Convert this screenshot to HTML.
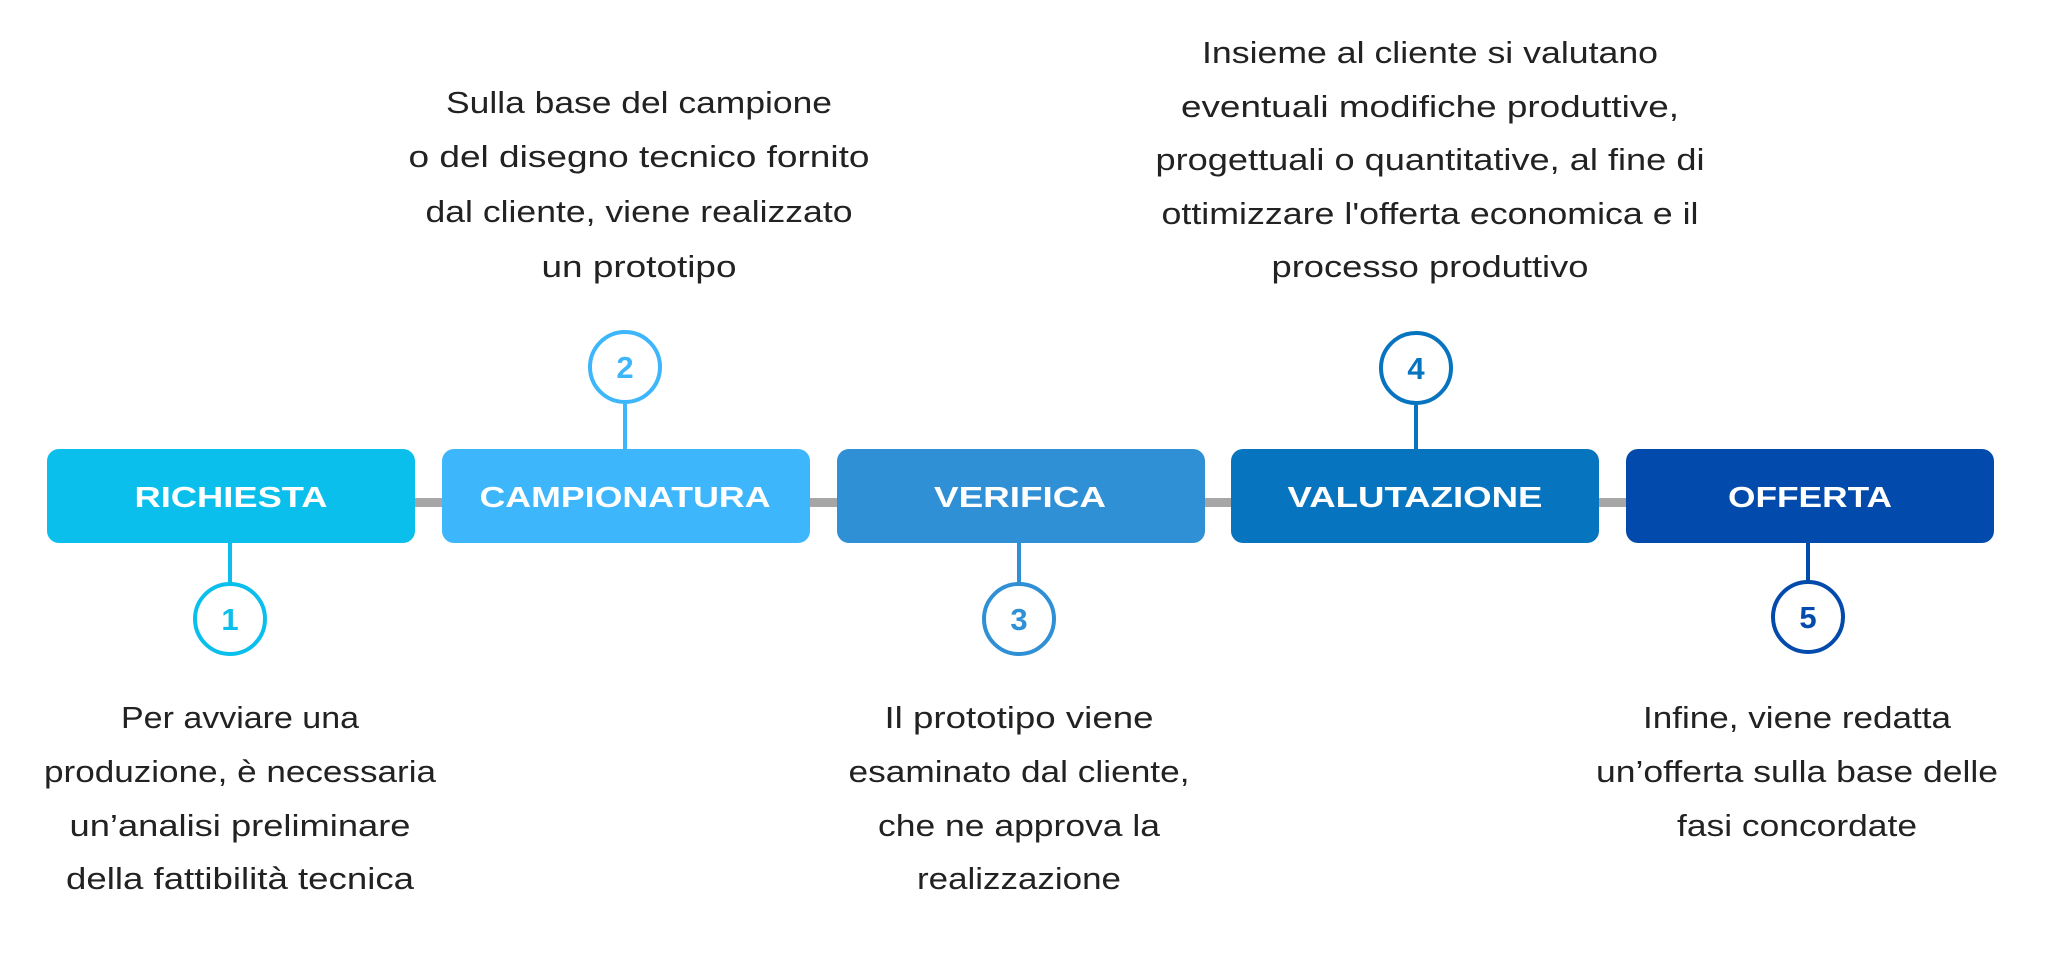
<!DOCTYPE html>
<html><head><meta charset="utf-8"><style>html,body{margin:0;padding:0;background:#fff}svg{display:block}</style></head>
<body>
<svg width="2054" height="962" viewBox="0 0 2054 962" xmlns="http://www.w3.org/2000/svg">
<rect width="2054" height="962" fill="#fff"/>
<rect x="410" y="498" width="1220" height="9" fill="#a6a6a6"/>
<g font-family="Liberation Sans, sans-serif" font-weight="bold" font-size="29" fill="#fff" text-anchor="middle">
<rect x="47" y="449" width="368" height="94" rx="12" fill="#0bbfec"/>
<rect x="442" y="449" width="368" height="94" rx="12" fill="#3db6fb"/>
<rect x="837" y="449" width="368" height="94" rx="12" fill="#3090d6"/>
<rect x="1231" y="449" width="368" height="94" rx="12" fill="#0674be"/>
<rect x="1626" y="449" width="368" height="94" rx="12" fill="#024aab"/>
<text x="231" y="507" textLength="193" lengthAdjust="spacingAndGlyphs">RICHIESTA</text>
<text x="625" y="507" textLength="291" lengthAdjust="spacingAndGlyphs">CAMPIONATURA</text>
<text x="1020" y="507" textLength="172" lengthAdjust="spacingAndGlyphs">VERIFICA</text>
<text x="1415" y="507" textLength="255" lengthAdjust="spacingAndGlyphs">VALUTAZIONE</text>
<text x="1810" y="507" textLength="164" lengthAdjust="spacingAndGlyphs">OFFERTA</text>
</g>
<g stroke-width="4" fill="#fff">
<line x1="230" y1="543" x2="230" y2="583" stroke="#0bbfec"/>
<circle cx="230" cy="619" r="35" stroke="#0bbfec"/>
<line x1="625" y1="403" x2="625" y2="449" stroke="#3db6fb"/>
<circle cx="625" cy="367" r="35" stroke="#3db6fb"/>
<line x1="1019" y1="543" x2="1019" y2="583" stroke="#3090d6"/>
<circle cx="1019" cy="619" r="35" stroke="#3090d6"/>
<line x1="1416" y1="404" x2="1416" y2="449" stroke="#0674be"/>
<circle cx="1416" cy="368" r="35" stroke="#0674be"/>
<line x1="1808" y1="543" x2="1808" y2="581" stroke="#024aab"/>
<circle cx="1808" cy="617" r="35" stroke="#024aab"/>
</g>
<g font-family="Liberation Sans, sans-serif" font-weight="bold" font-size="31" text-anchor="middle">
<text x="230" y="630" fill="#0bbfec">1</text>
<text x="625" y="378" fill="#3db6fb">2</text>
<text x="1019" y="630" fill="#3090d6">3</text>
<text x="1416" y="379" fill="#0674be">4</text>
<text x="1808" y="628" fill="#024aab">5</text>
</g>
<g font-family="Liberation Sans, sans-serif" font-size="31" fill="#222" text-anchor="middle">
<text x="240" y="728" textLength="238" lengthAdjust="spacingAndGlyphs">Per avviare una</text>
<text x="240" y="782" textLength="392" lengthAdjust="spacingAndGlyphs">produzione, è necessaria</text>
<text x="240" y="836" textLength="341" lengthAdjust="spacingAndGlyphs">un’analisi preliminare</text>
<text x="240" y="889" textLength="348" lengthAdjust="spacingAndGlyphs">della fattibilità tecnica</text>

<text x="639" y="113" textLength="386" lengthAdjust="spacingAndGlyphs">Sulla base del campione</text>
<text x="639" y="167" textLength="461" lengthAdjust="spacingAndGlyphs">o del disegno tecnico fornito</text>
<text x="639" y="222" textLength="427" lengthAdjust="spacingAndGlyphs">dal cliente, viene realizzato</text>
<text x="639" y="277" textLength="195" lengthAdjust="spacingAndGlyphs">un prototipo</text>

<text x="1019" y="728" textLength="269" lengthAdjust="spacingAndGlyphs">Il prototipo viene</text>
<text x="1019" y="782" textLength="341" lengthAdjust="spacingAndGlyphs">esaminato dal cliente,</text>
<text x="1019" y="836" textLength="282" lengthAdjust="spacingAndGlyphs">che ne approva la</text>
<text x="1019" y="889" textLength="204" lengthAdjust="spacingAndGlyphs">realizzazione</text>

<text x="1430" y="63" textLength="456" lengthAdjust="spacingAndGlyphs">Insieme al cliente si valutano</text>
<text x="1430" y="117" textLength="498" lengthAdjust="spacingAndGlyphs">eventuali modifiche produttive,</text>
<text x="1430" y="170" textLength="549" lengthAdjust="spacingAndGlyphs">progettuali o quantitative, al fine di</text>
<text x="1430" y="224" textLength="537" lengthAdjust="spacingAndGlyphs">ottimizzare l'offerta economica e il</text>
<text x="1430" y="277" textLength="317" lengthAdjust="spacingAndGlyphs">processo produttivo</text>

<text x="1797" y="728" textLength="308" lengthAdjust="spacingAndGlyphs">Infine, viene redatta</text>
<text x="1797" y="782" textLength="402" lengthAdjust="spacingAndGlyphs">un’offerta sulla base delle</text>
<text x="1797" y="836" textLength="240" lengthAdjust="spacingAndGlyphs">fasi concordate</text>
</g>
</svg>
</body></html>
